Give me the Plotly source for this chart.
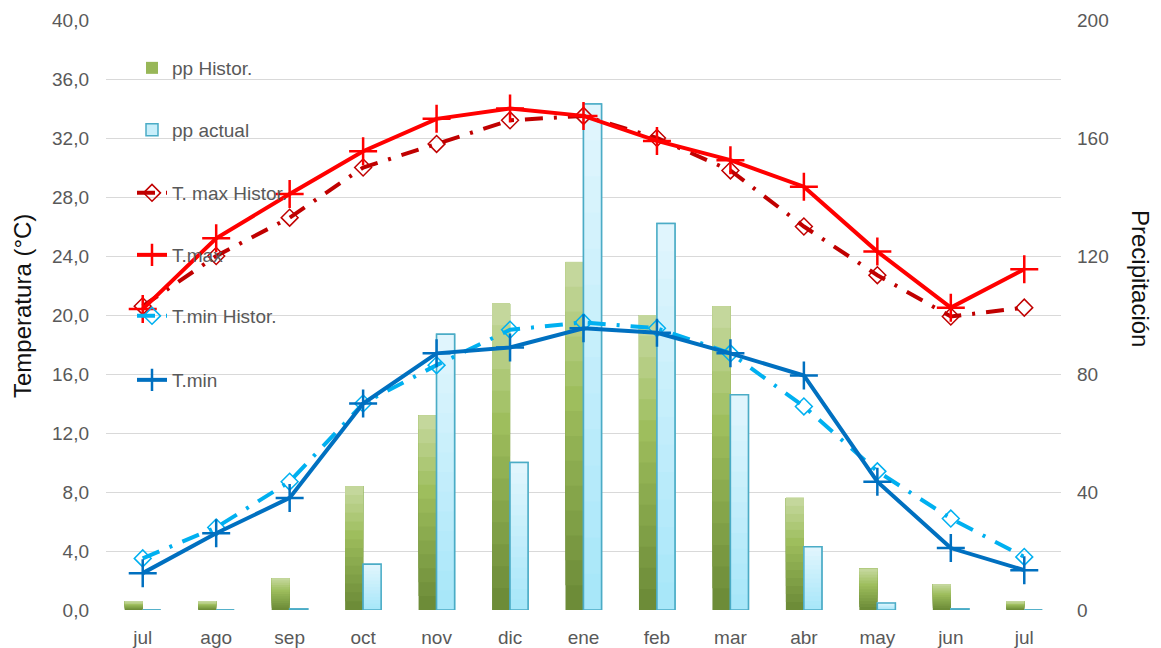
import plotly.graph_objects as go

months = ["jul", "ago", "sep", "oct", "nov", "dic", "ene", "feb", "mar", "abr", "may", "jun", "jul"]
pp_histor = [3, 3, 10.8, 42, 66, 104, 118, 100, 103, 38, 14, 8.8, 3]
pp_actual = [0, 0, 0.4, 15.5, 93.5, 50, 171.5, 131, 73, 21.4, 2.4, 0.4, 0]
tmax_histor = [20.6, 24.0, 26.6, 30.0, 31.6, 33.2, 33.5, 32.0, 29.8, 26.0, 22.7, 19.9, 20.5]
tmax = [20.4, 25.2, 28.2, 31.1, 33.3, 34.0, 33.5, 31.8, 30.5, 28.7, 24.3, 20.5, 23.1]
tmin_histor = [3.5, 5.6, 8.7, 14.0, 16.6, 19.0, 19.5, 19.1, 17.4, 13.8, 9.4, 6.2, 3.6]
tmin = [2.5, 5.2, 7.6, 14.0, 17.4, 17.8, 19.1, 18.8, 17.4, 15.9, 8.7, 4.2, 2.7]

xs = list(range(len(months)))
W, H = 1161, 648
L, R, T, B = 106, 100, 20, 38
BW = 0.245
N = 14
FONT = "Liberation Sans, Arial, sans-serif"


def lerp(c1, c2, t):
    a = [int(c1[i:i + 2], 16) for i in (1, 3, 5)]
    b = [int(c2[i:i + 2], 16) for i in (1, 3, 5)]
    return "rgb(%d,%d,%d)" % tuple(round(a[k] + (b[k] - a[k]) * t) for k in range(3))


def grad3(bot, mid, top, t):
    return lerp(bot, mid, t / 0.6) if t < 0.6 else lerp(mid, top, (t - 0.6) / 0.4)


fig = go.Figure()

# green gradient bars (pp Histor.)
for i in range(N):
    f = i / N
    fig.add_trace(go.Bar(
        x=xs, y=[v * (1 - f) for v in pp_histor], base=[v * f for v in pp_histor],
        offset=-BW, width=BW, yaxis="y",
        marker=dict(color=grad3("#6A8936", "#9DBD5C", "#C8DAA2", (i + 0.5) / N), line=dict(width=0)),
        showlegend=(i == 7), name="pp Histor.", legend="legend", hoverinfo="skip"))

# blue bars (pp actual)
fig.add_trace(go.Bar(x=xs, y=pp_actual, offset=0, width=BW, yaxis="y",
                     marker=dict(color="#C9EFFB", line=dict(color="#4BACC6", width=1.5)),
                     name="pp actual", legend="legend2", showlegend=True))
for i in range(N):
    f = i / N
    fig.add_trace(go.Bar(
        x=xs, y=[v * (1 - f) for v in pp_actual], base=[v * f for v in pp_actual],
        offset=0, width=BW, yaxis="y",
        marker=dict(color=lerp("#A6E6F9", "#E2F6FD", (i + 0.5) / N), line=dict(width=0)),
        showlegend=False, hoverinfo="skip"))
fig.add_trace(go.Bar(x=xs, y=pp_actual, offset=0, width=BW, yaxis="y",
                     marker=dict(color="rgba(0,0,0,0)", line=dict(color="#4BACC6", width=1.5)),
                     showlegend=False, hoverinfo="skip"))

dashdot = "18px,11px,3px,11px"
fig.add_trace(go.Scatter(x=xs, y=tmax_histor, yaxis="y2", mode="lines+markers", name="T. max Histor.",
                         legend="legend3",
                         line=dict(color="#C00000", width=4, dash=dashdot),
                         marker=dict(symbol="diamond-open", size=13, color="#C00000", line=dict(width=1.5, color="#C00000"))))
fig.add_trace(go.Scatter(x=xs, y=tmax, yaxis="y2", mode="lines+markers", name="T.max", legend="legend4",
                         line=dict(color="#FF0000", width=4),
                         marker=dict(symbol="cross-thin", size=20, color="#FF0000", line=dict(width=2.5, color="#FF0000"))))
fig.add_trace(go.Scatter(x=xs, y=tmin_histor, yaxis="y2", mode="lines+markers", name="T.min Histor.",
                         legend="legend5",
                         line=dict(color="#00B0F0", width=4, dash=dashdot),
                         marker=dict(symbol="diamond-open", size=13, color="#00B0F0", line=dict(width=1.5, color="#00B0F0"))))
fig.add_trace(go.Scatter(x=xs, y=tmin, yaxis="y2", mode="lines+markers", name="T.min", legend="legend6",
                         line=dict(color="#0070C0", width=4),
                         marker=dict(symbol="cross-thin", size=20, color="#0070C0", line=dict(width=2.5, color="#0070C0"))))

ph = H - T - B
leg_font = dict(family=FONT, size=19, color="#595959")


def leg(ypix):
    return dict(x=(132 - L) / (W - L - R), xanchor="left", y=(H - B - ypix) / ph, yanchor="middle",
                bgcolor="rgba(0,0,0,0)", font=leg_font, borderwidth=0, itemwidth=30)


fig.update_layout(
    width=W, height=H, margin=dict(l=L, r=R, t=T, b=B, autoexpand=False),
    paper_bgcolor="white", plot_bgcolor="white",
    separators=",.",
    barmode="overlay",
    font=dict(family=FONT, size=19, color="#595959"),
    xaxis=dict(range=[-0.5, 12.5], tickvals=xs, ticktext=months, showgrid=False, zeroline=False,
               showline=False, ticks="", ticklabelstandoff=14, automargin=False,
               tickfont=dict(size=19, color="#595959")),
    yaxis=dict(range=[0, 200], side="right", dtick=40, tick0=0, showgrid=True, gridcolor="#D9D9D9",
               gridwidth=1, zeroline=False, ticks="", ticklabelstandoff=15, automargin=False,
               minor=dict(dtick=20, showgrid=True, gridcolor="#D9D9D9", gridwidth=1),
               tickfont=dict(size=19, color="#595959")),
    yaxis2=dict(range=[0, 40], side="left", overlaying="y", dtick=4, tick0=0, tickformat=".1f",
                showgrid=False, zeroline=False, ticks="", ticklabelstandoff=16, automargin=False,
                tickfont=dict(size=19, color="#595959")),
    legend=leg(68), legend2=leg(130), legend3=leg(193), legend4=leg(255), legend5=leg(316), legend6=leg(380),
    annotations=[
        dict(text="Temperatura (°C)", xref="paper", yref="paper", x=(22 - L) / (W - L - R), y=(H - B - 306) / ph,
             xanchor="center", yanchor="middle", showarrow=False, textangle=-90,
             font=dict(family=FONT, size=24, color="#111111")),
        dict(text="Precipitación", xref="paper", yref="paper", x=(1141 - L) / (W - L - R), y=(H - B - 278) / ph,
             xanchor="center", yanchor="middle", showarrow=False, textangle=90,
             font=dict(family=FONT, size=24, color="#111111")),
    ],
)

fig.write_html("out.html", config={"displayModeBar": False},
               post_script="document.body.style.margin='0px';")
